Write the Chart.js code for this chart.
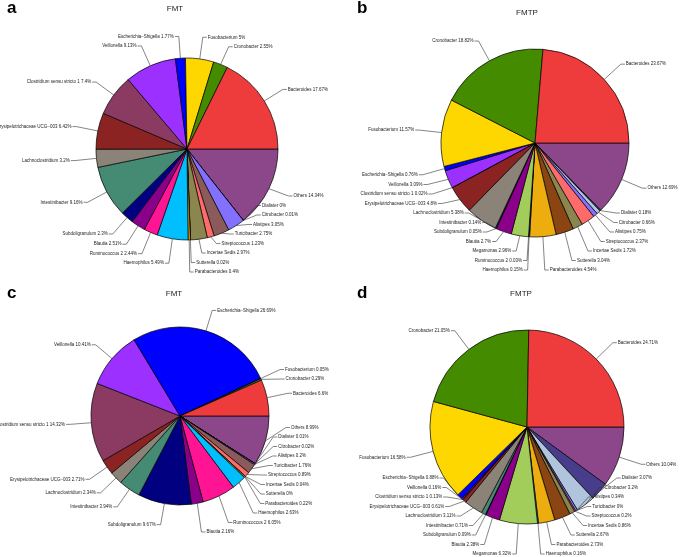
<!DOCTYPE html>
<html>
<head>
<meta charset="utf-8">
<script src="https://cdn.jsdelivr.net/npm/chart.js@4.4.1/dist/chart.umd.min.js"></script>
<style>
  body { margin: 0; background: #fff; }
  #wrap { position: relative; width: 685px; height: 557px; overflow: hidden; }
  canvas { position: absolute; }
</style>
</head>
<body>
<div id="wrap">
  <canvas id="pieA" width="342" height="280" style="left:0;top:0"></canvas>
  <canvas id="pieB" width="343" height="280" style="left:342px;top:0"></canvas>
  <canvas id="pieC" width="342" height="277" style="left:0;top:280px"></canvas>
  <canvas id="pieD" width="343" height="277" style="left:342px;top:280px"></canvas>
</div>
<script>
// slices listed clockwise starting at 3 o'clock
const taxaA = ["Others", "Dialister", "Citrobacter", "Alistipes", "Turicibacter", "Streptococcus",
  "Incertae Sedis", "Sutterella", "Parabacteroides", "Haemophilus", "Ruminococcus 2", "Blautia",
  "Subdoligranulum", "Intestinibacter", "Lachnoclostridium", "Erysipelotrichaceae UCG\u2212003",
  "Clostridium sensu stricto 1", "Veillonella", "Escherichia\u2212Shigella", "Fusobacterium",
  "Cronobacter", "Bacteroides"];
const valuesA = [14.34, 0, 0.01, 3.05, 2.75, 1.23, 2.97, 0.02, 0.4, 5.49, 2.44, 2.51,
  2.3, 9.16, 3.2, 6.42, 7.4, 9.13, 1.77, 5, 2.55, 17.67];

const taxaB = ["Others", "Dialister", "Citrobacter", "Alistipes", "Streptococcus", "Incertae Sedis",
  "Sutterella", "Parabacteroides", "Haemophilus", "Ruminococcus 2", "Megamonas", "Blautia",
  "Subdoligranulum", "Intestinibacter", "Lachnoclostridium", "Erysipelotrichaceae UCG\u2212003",
  "Clostridium sensu stricto 1", "Veillonella", "Escherichia\u2212Shigella", "Fusobacterium",
  "Cronobacter", "Bacteroides"];
const valuesB = [12.69, 0.18, 0.66, 0.75, 2.37, 1.72, 3.04, 4.54, 0.15, 0.03, 2.96, 2.7,
  0.05, 0.14, 5.38, 4.8, 0.02, 3.09, 0.76, 11.57, 18.82, 23.67];

const taxaC = taxaA;
const valuesC = [8.99, 0.01, 0.02, 0.2, 1.76, 0.89, 0.04, 0, 0.22, 2.63, 6.05, 2.16,
  9.67, 3.94, 2.34, 2.71, 14.32, 10.41, 26.69, 0.05, 0.29, 6.6];

const taxaD = ["Others", "Dialister", "Citrobacter", "Alistipes", "Turicibacter", "Streptococcus",
  "Incertae Sedis", "Sutterella", "Parabacteroides", "Haemophilus", "Megamonas", "Blautia",
  "Subdoligranulum", "Intestinibacter", "Lachnoclostridium", "Erysipelotrichaceae UCG\u2212003",
  "Clostridium sensu stricto 1", "Veillonella", "Escherichia\u2212Shigella", "Fusobacterium",
  "Cronobacter", "Bacteroides"];
const valuesD = [10.04, 3.07, 3.2, 0.34, 0, 0.2, 0.86, 2.67, 2.73, 0.16, 6.32, 2.38,
  0.09, 0.71, 3.11, 0.61, 0.13, 0.16, 0.88, 16.58, 21.05, 24.71];

const taxonColors = {
  "Others": "#8B4789",
  "Dialister": "#483D8B",
  "Citrobacter": "#B0C4DE",
  "Alistipes": "#8470FF",
  "Turicibacter": "#8B5A5A",
  "Streptococcus": "#FF6A6A",
  "Incertae Sedis": "#8B864E",
  "Sutterella": "#8B4513",
  "Parabacteroides": "#EEAD0E",
  "Haemophilus": "#00BFFF",
  "Ruminococcus 2": "#FF1493",
  "Megamonas": "#A2CD5A",
  "Blautia": "#8B008B",
  "Subdoligranulum": "#000080",
  "Intestinibacter": "#458B74",
  "Lachnoclostridium": "#8B8378",
  "Erysipelotrichaceae UCG\u2212003": "#8B2323",
  "Clostridium sensu stricto 1": "#8B3A62",
  "Veillonella": "#9B30FF",
  "Escherichia\u2212Shigella": "#0000FF",
  "Fusobacterium": "#FFD700",
  "Cronobacter": "#458B00",
  "Bacteroides": "#EE3B3B"
};

const panels = [
  { id: "pieA", letter: "a", title: "FMT", taxa: taxaA, values: valuesA,
    w: 342, h: 280, cx: 187, cy: 149, r: 91, maxY: 272, letterPos: [7, 13], titlePos: [175, 11] },
  { id: "pieB", letter: "b", title: "FMTP", taxa: taxaB, values: valuesB,
    w: 343, h: 280, cx: 193, cy: 143, r: 94, maxY: 270, letterPos: [15, 13], titlePos: [185, 15] },
  { id: "pieC", letter: "c", title: "FMT", taxa: taxaC, values: valuesC,
    w: 342, h: 277, cx: 180, cy: 136, r: 89, maxY: 252, letterPos: [7, 18], titlePos: [174, 16] },
  { id: "pieD", letter: "d", title: "FMTP", taxa: taxaD, values: valuesD,
    w: 343, h: 277, cx: 185, cy: 147, r: 97, maxY: 274, letterPos: [15, 18], titlePos: [179, 16] }
];

const FONT = '"Liberation Sans", Arial, sans-serif';

function spread(list, gap, minY, maxY) {
  list.sort((a, b) => a.by - b.by);
  list.forEach(it => it.y = it.by);
  for (let i = 0; i < list.length; i++) {
    const low = i === 0 ? minY : list[i - 1].y + gap;
    if (list[i].y < low) list[i].y = low;
  }
  for (let i = list.length - 1; i >= 0; i--) {
    const lim = i === list.length - 1 ? maxY : list[i + 1].y - gap;
    if (list[i].y > lim) list[i].y = lim;
  }
}

const pieLabels = {
  id: "pieLabels",
  afterDatasetsDraw(chart, args, opts) {
    const ctx = chart.ctx;
    const meta = chart.getDatasetMeta(0);
    const data = chart.data.datasets[0].data;
    const names = chart.data.labels;
    const items = meta.data.map((arc, i) => {
      const mid = (arc.startAngle + arc.endAngle) / 2;
      const r = arc.outerRadius;
      const c = Math.cos(mid), s = Math.sin(mid);
      return {
        text: names[i] + " " + data[i] + "%",
        ex: arc.x + r * c, ey: arc.y + r * s,
        bx: arc.x + r * opts.reach * c, by: arc.y + r * opts.reach * s,
        right: c >= 0
      };
    });
    spread(items.filter(d => d.right), opts.gap, 22, opts.maxY);
    spread(items.filter(d => !d.right), opts.gap, 22, opts.maxY);

    ctx.save();
    ctx.strokeStyle = "#333";
    ctx.lineWidth = 0.6;
    ctx.fillStyle = "#222";
    ctx.font = "4.5px " + FONT;
    ctx.textBaseline = "middle";
    items.forEach(d => {
      const dir = d.right ? 1 : -1;
      ctx.beginPath();
      ctx.moveTo(d.ex, d.ey);
      ctx.lineTo(d.bx, d.y);
      ctx.lineTo(d.bx + dir * 4, d.y);
      ctx.stroke();
      ctx.textAlign = d.right ? "left" : "right";
      ctx.fillText(d.text, d.bx + dir * 5, d.y);
    });

    // panel letter and heading
    ctx.textBaseline = "alphabetic";
    ctx.fillStyle = "#000";
    ctx.textAlign = "left";
    ctx.font = "bold 17px " + FONT;
    ctx.fillText(opts.letter, opts.letterPos[0], opts.letterPos[1]);
    ctx.fillStyle = "#222";
    ctx.textAlign = "center";
    ctx.font = "8px " + FONT;
    ctx.fillText(opts.title, opts.titlePos[0], opts.titlePos[1]);
    ctx.restore();
  }
};

panels.forEach(p => {
  new Chart(document.getElementById(p.id), {
    type: "pie",
    data: {
      labels: p.taxa,
      datasets: [{
        data: p.values,
        backgroundColor: p.taxa.map(t => taxonColors[t]),
        borderColor: "#000",
        borderWidth: 0.7,
        radius: p.r
      }]
    },
    options: {
      responsive: false,
      animation: false,
      rotation: 90,
      layout: {
        padding: {
          left: p.cx - p.r,
          right: p.w - (p.cx + p.r),
          top: p.cy - p.r,
          bottom: p.h - (p.cy + p.r)
        }
      },
      plugins: {
        legend: { display: false },
        tooltip: { enabled: false },
        pieLabels: {
          reach: 1.24, gap: 9.5, maxY: p.maxY,
          letter: p.letter, letterPos: p.letterPos,
          title: p.title, titlePos: p.titlePos
        }
      }
    },
    plugins: [pieLabels]
  });
});
</script>
</body>
</html>
